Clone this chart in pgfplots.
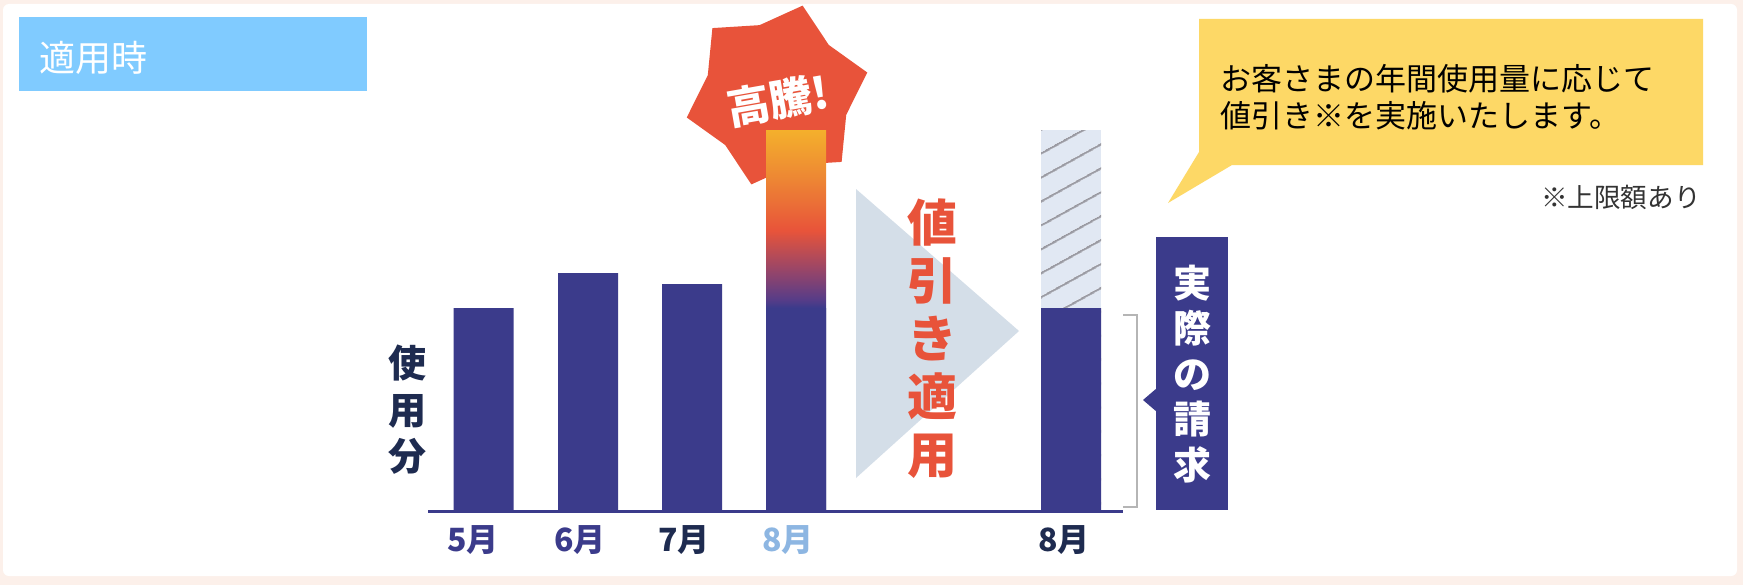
\documentclass[border=0pt]{standalone}
\usepackage{pgfplots}
\pgfplotsset{compat=1.18}
\usepackage{fontspec}
\usetikzlibrary{patterns.meta}
\newfontfamily\jp{Noto Sans CJK JP}

\definecolor{peach}{HTML}{FCF0EA}
\definecolor{header}{HTML}{80CBFF}
\definecolor{navy}{HTML}{3B3B8B}
\definecolor{ink}{HTML}{1E2B50}
\definecolor{burst}{HTML}{E8533A}
\definecolor{arrowbg}{HTML}{D4DEE8}
\definecolor{hatchbg}{HTML}{E1E8F3}
\definecolor{hatchline}{HTML}{9A9AA2}
\definecolor{bracket}{HTML}{B5B5B5}
\definecolor{callout}{HTML}{FDD866}
\definecolor{lightmonth}{HTML}{8DB6E2}
\definecolor{gA}{HTML}{553C88}
\definecolor{gB}{HTML}{8A4370}
\definecolor{gC}{HTML}{E8543A}
\definecolor{gD}{HTML}{ED8534}
\definecolor{gE}{HTML}{F4B02C}

% bar spans 25bp..75bp of the shading
\pgfdeclareverticalshading{surge}{100bp}{color(0bp)=(navy); color(51.6bp)=(navy);
  color(52.6bp)=(gA); color(55.7bp)=(gB); color(61.8bp)=(gC); color(68.4bp)=(gD);
  color(75bp)=(gE); color(100bp)=(gE)}

\begin{document}
\begin{tikzpicture}
\begin{axis}[
    scale only axis,
    width=871.5pt, height=292.5pt,
    xmin=0, xmax=1743, ymin=-75, ymax=510,
    hide axis,
    clip=false,
  ]
  % panel
  \fill[peach] (axis cs:0,-75) rectangle (axis cs:1743,510);
  \fill[white, rounded corners=3pt] (axis cs:3,-66) rectangle (axis cs:1737,506);

  % header
  \fill[header] (axis cs:19,419) rectangle (axis cs:367,493);
  \node[anchor=west, inner sep=0, text=white, font={\jp\fontsize{18}{20}\selectfont}]
    at (axis cs:39,452) {適用時};

  % burst behind the surging bar
  \fill[burst] ([shift={(74:46.5pt)}]axis cs:777,415) -- ([shift={(104:36pt)}]axis cs:777,415)
    -- ([shift={(134:46.5pt)}]axis cs:777,415) -- ([shift={(164:36pt)}]axis cs:777,415)
    -- ([shift={(194:46.5pt)}]axis cs:777,415) -- ([shift={(224:36pt)}]axis cs:777,415)
    -- ([shift={(254:46.5pt)}]axis cs:777,415) -- ([shift={(284:36pt)}]axis cs:777,415)
    -- ([shift={(314:46.5pt)}]axis cs:777,415) -- ([shift={(344:36pt)}]axis cs:777,415)
    -- ([shift={(14:46.5pt)}]axis cs:777,415) -- ([shift={(44:36pt)}]axis cs:777,415) -- cycle;
  \node[rotate=10, inner sep=0, text=white, font={\jp\bfseries\fontsize{21.5}{22}\selectfont}]
    at (axis cs:778,410) {高騰!};

  % full usage before discount
  \addplot[ybar, bar width=60, bar shift=0pt, draw=none, shade, shading=surge]
    coordinates {(796,380)};
  \addplot[ybar, bar width=60, bar shift=0pt, draw=none, fill=hatchbg,
    postaction={pattern color=hatchline, pattern={Lines[angle=29, distance=10.5pt, line width=1.2pt]}}]
    coordinates {(1071,380)};
  % billed usage
  \addplot[ybar, bar width=60, bar shift=0pt, draw=none, fill=navy]
    coordinates {(483.5,202) (588,237) (692,226) (796,202) (1071,202)};

  % baseline
  \draw[navy, line width=1.5pt] (axis cs:428,-1.5) -- (axis cs:1123,-1.5);

  % discount arrow
  \fill[arrowbg] (axis cs:856,321) -- (axis cs:1019,179) -- (axis cs:856,32) -- cycle;
  \node[align=center, inner sep=0, text=burst, font={\jp\bfseries\fontsize{25}{29}\selectfont}]
    at (axis cs:932,171) {値\\引\\き\\適\\用};

  % bracket and billing box
  \draw[bracket, line width=1pt] (axis cs:1123,195) -- (axis cs:1137,195)
    -- (axis cs:1137,3) -- (axis cs:1123,3);
  \fill[navy] (axis cs:1156,0) rectangle (axis cs:1228,273);
  \fill[navy] (axis cs:1157,122) -- (axis cs:1143,110) -- (axis cs:1157,98) -- cycle;
  \node[align=center, inner sep=0, text=white, font={\jp\bfseries\fontsize{19}{22.75}\selectfont}]
    at (axis cs:1192,136) {実\\際\\の\\請\\求};

  % callout
  \fill[callout] (axis cs:1199,491) -- (axis cs:1703,491) -- (axis cs:1703,345)
    -- (axis cs:1232,345) -- (axis cs:1168,307) -- (axis cs:1199,358) -- cycle;
  \node[anchor=west, align=left, inner sep=0, font={\jp\fontsize{15.5}{18.5}\selectfont}]
    at (axis cs:1220,413) {お客さまの年間使用量に応じて\\値引き※を実施いたします。};
  \node[anchor=east, inner sep=0, text=black!80, font={\jp\fontsize{13.3}{15}\selectfont}]
    at (axis cs:1701,313) {※上限額あり};

  % month labels
  \node[text=navy, font={\jp\bfseries\fontsize{16}{18}\selectfont}] at (axis cs:473,-30) {5月};
  \node[text=navy, font={\jp\bfseries\fontsize{16}{18}\selectfont}] at (axis cs:580,-30) {6月};
  \node[text=ink, font={\jp\bfseries\fontsize{16}{18}\selectfont}] at (axis cs:684,-30) {7月};
  \node[text=lightmonth, font={\jp\bfseries\fontsize{16}{18}\selectfont}] at (axis cs:788,-30) {8月};
  \node[text=ink, font={\jp\bfseries\fontsize{16}{18}\selectfont}] at (axis cs:1064,-30) {8月};

  % y label
  \node[align=center, inner sep=0, text=ink, font={\jp\bfseries\fontsize{19}{23.25}\selectfont}]
    at (axis cs:407,100) {使\\用\\分};
\end{axis}
\end{tikzpicture}
\end{document}
